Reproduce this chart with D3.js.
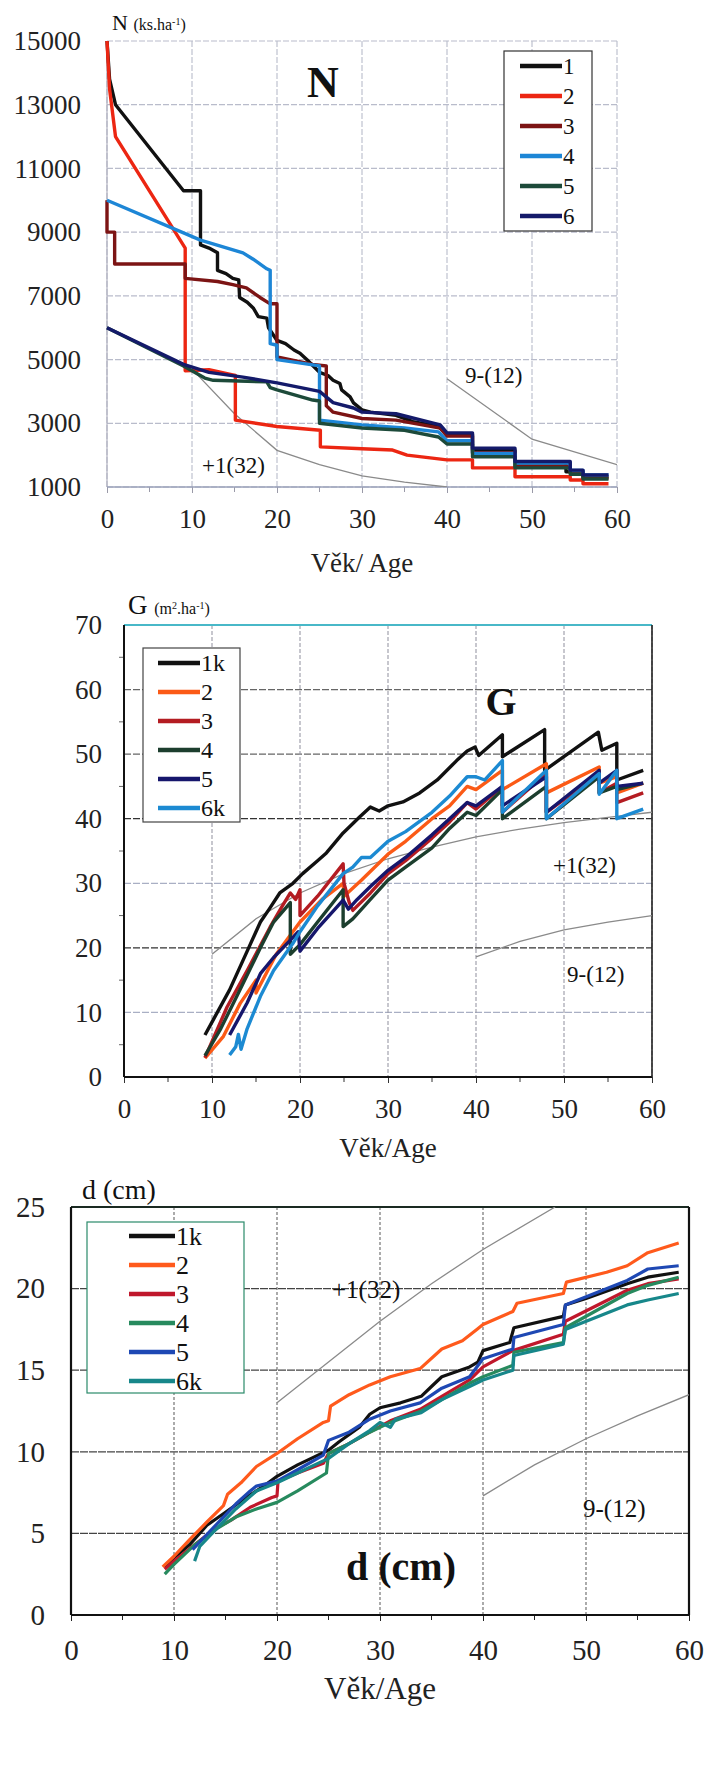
<!DOCTYPE html>
<html>
<head>
<meta charset="utf-8">
<script src="https://cdn.jsdelivr.net/npm/d3@7"></script>
<style>
  body { margin: 0; background: #fff; }
  svg, svg text { font-family: "Liberation Serif", "DejaVu Serif", serif; }
</style>
</head>
<body>
<svg id="chart" width="708" height="1783"></svg>
<script>
// ---------- data: N (ks.ha-1) by age ----------
const nS1 = [[0,15000],[0.3,13800],[1,13000],[9,10300],[11,10300],[11,8600],[12,8500],[13,8350],[13,7800],[14,7700],[14.8,7550],[15.5,7500],[15.6,6950],[16.5,6800],[17.2,6620],[17.8,6350],[18.8,6300],[19,6000],[20,5600],[21,5500],[22,5300],[22.7,5200],[23.5,5000],[25,4600],[26,4500],[26.6,4350],[27.4,4250],[27.6,4050],[28.6,3830],[29,3640],[30,3420],[31,3350],[34,3250],[36,3050],[39,2900],[40,2650],[43,2650],[43,2150],[48,2150],[48,1750],[54,1750],[54,1480],[56,1480],[56,1320],[59,1320]];
const nS2 = [[0,15000],[0.3,13500],[1,12000],[9.2,8500],[9.2,4650],[12,4680],[14.8,4520],[15.1,4500],[15.1,3100],[20,2900],[25.1,2780],[25.1,2260],[30,2200],[33.6,2160],[35.3,2000],[40,1850],[43,1850],[43,1600],[48,1600],[48,1320],[54.5,1320],[54.5,1220],[56,1220],[56,1100],[59,1100]];
const nS3 = [[0,10000],[0,9000],[0.9,9000],[0.9,8000],[9.2,8000],[9.2,7550],[13,7450],[14.8,7350],[16.4,7250],[18,6950],[19.2,6750],[20,6750],[20,5080],[24.2,4850],[25.8,4800],[25.8,3550],[26.6,3350],[30,3150],[34,3100],[39.2,2850],[40,2600],[43,2600],[43,2080],[48,2080],[48,1650],[54.5,1650],[54.5,1450],[56,1450],[56,1280],[59,1280]];
const nS4 = [[0,10000],[11,8750],[16,8350],[17.2,8150],[18.8,7850],[19.2,7800],[19.2,5500],[20,5450],[20,5000],[25,4800],[25,3100],[27.4,3030],[30,2950],[35,2850],[39,2730],[40,2450],[43,2450],[43,2050],[48,2050],[48,1750],[54.5,1750],[54.5,1520],[56,1520],[56,1380],[59,1380]];
const nS5 = [[0,6000],[9,4800],[11.5,4420],[12.5,4350],[18.8,4300],[19.2,4120],[20,4050],[24.2,3730],[25,3700],[25,3000],[30,2850],[35,2780],[39,2570],[40,2350],[43,2350],[43,1950],[48,1950],[48,1600],[54.5,1600],[54.5,1400],[56,1400],[56,1250],[59,1250]];
const nS6 = [[0,6000],[9,4850],[12,4600],[16,4450],[20,4270],[25,4000],[26.6,3650],[29,3480],[30,3350],[34,3300],[39.2,2950],[40,2700],[43,2700],[43,2220],[48,2220],[48,1800],[54.5,1800],[54.5,1530],[56,1530],[56,1380],[59,1380]];
const nRefPlus = [[10,4700],[15,3300],[20,2150],[25,1700],[30,1350],[35,1150],[40,1000]];
const nRefNine = [[40,4400],[50,2500],[60,1700]];
const nNames = ["1","2","3","4","5","6"];
const nTicks = [1000,3000,5000,7000,9000,11000,13000,15000];

// ---------- data: G (m2.ha-1) by age ----------
const gS1 = [[9.2,6.5],[10,8.5],[12,13.5],[14,19.5],[15.5,24],[16.5,26],[17.7,28.5],[19.2,30],[20.3,31.5],[22,33.5],[23,34.7],[24.9,37.8],[26.8,40.3],[28,41.8],[29,41.2],[30,42],[31.7,42.6],[33.6,44],[35.6,46],[37.8,49],[39,50.5],[39.9,51.1],[40.3,49.8],[43,53],[43,49.6],[47.8,53.8],[47.8,47.5],[53.9,53.4],[54.3,50.6],[56,51.7],[56,46],[59,47.5]];
const gS2 = [[9.2,2.9],[11.3,6.3],[13.2,11.4],[15,15],[15,13],[17.3,19],[20,24],[22.5,27.5],[24.9,30],[25,28],[27,30.5],[30,34.5],[32,36.5],[35,40],[37,42],[39,45],[40,44.5],[43,47.5],[43,44.5],[48,48.5],[48,44],[54,48],[54,45.5],[56,46.5],[56,44],[59,45.5]];
const gS3 = [[9.2,3],[11.7,10.8],[14,16.5],[16.6,23.2],[18,26.5],[18.9,28.5],[19.5,27.5],[20,29],[20,25],[22,28],[24.9,33],[25,30],[25.6,27],[26,25.8],[28,28.5],[30,31.5],[32,33.5],[35,37],[37,39.5],[39,42.5],[40,41.5],[43,45],[43,41],[48,47],[48,41],[54,47],[54,44],[56,45.5],[56,42.5],[59,44]];
const gS4 = [[9.2,3.3],[11,7.5],[13,13],[15.5,20],[17,24],[18.9,27],[18.9,19],[20,20.5],[22,24],[24.9,29],[24.9,23.3],[26,24.5],[28,27.5],[30,30.5],[32,32.5],[35,35.5],[37,38.5],[39,41],[40,40.5],[43,44.5],[43,40],[48,45],[48,40],[54,46.5],[54,44],[56,45],[56,44.5],[59,45.5]];
const gS5 = [[12,6.5],[14,11.5],[15.5,16],[17,18.5],[18.9,21.2],[19.8,22.5],[20,19.5],[22,23],[24.9,27.4],[25.5,26],[26.5,27.5],[28,29.5],[30,32],[32,34],[35,37.5],[37,40],[39,42.5],[40,42],[43,45],[43,42],[48,46.5],[48,41],[54,47.5],[54,45.5],[56,47.5],[56,45],[59,45.5]];
const gS6 = [[12,3.4],[12.7,4.7],[13,6.6],[13.3,4.3],[14,7.5],[15.5,12.5],[17,16.5],[19.2,20.7],[20,22.5],[22,26.5],[24.9,31.5],[26,32.5],[27,34],[28,34],[30,36.5],[32,38],[35,41],[37,43.5],[39,46.5],[40,46.5],[41,46],[43,49],[43,41],[48,47.5],[48,40],[54,47],[54,43.8],[56,47.5],[56,40],[59,41.5]];
const gRefPlus = [[10,19],[15,24.5],[20,28.5],[25,31.5],[30,33.8],[35,35.6],[40,37.2],[45,38.4],[50,39.4],[55,40.2],[60,41]];
const gRefNine = [[40,18.6],[45,21],[50,22.8],[55,24],[60,25]];
const gNames = ["1k","2","3","4","5","6k"];
const gTicks = [0,10,20,30,40,50,60,70];

// ---------- data: d (cm) by age ----------
const dS1 = [[9.1,2.9],[10,3.5],[11.5,4.3],[13.2,5.5],[15,6.3],[17,7.2],[18.5,7.8],[20,8.5],[22,9.2],[25,10.1],[26,10.6],[28,11.5],[29,12.3],[30,12.7],[32,13],[34,13.4],[35,14],[36,14.6],[38.7,15.2],[39.5,15.5],[40,16.2],[42.6,16.7],[43,17.6],[47.8,18.3],[48,19],[50,19.4],[54,20.3],[56,20.7],[59,21]];
const dS2 = [[8.9,2.95],[10,3.6],[11.5,4.6],[13.2,5.7],[14.8,6.7],[15.2,7.4],[16.5,8.1],[18,9.1],[20,9.9],[22,10.8],[24.5,11.8],[25,11.9],[25.2,12.8],[27,13.5],[29,14.1],[31,14.6],[33.9,15.1],[36,16.3],[38,16.8],[39.4,17.5],[40,17.8],[42.9,18.6],[43.3,19.1],[47.8,19.7],[48.1,20.4],[52,21],[54,21.4],[56,22.2],[59,22.8]];
const dS3 = [[9.1,2.8],[10,3.3],[12,4.3],[14,5.3],[15.5,5.8],[17.4,6.6],[19.5,7.2],[20,7.3],[20.1,8.2],[22,8.7],[24.5,9.3],[25,9.9],[27,10.5],[29,11.2],[31,11.9],[33.9,12.6],[36,13.4],[38.7,14.4],[40,15.2],[42.9,16.2],[47.8,17.2],[48,18],[54,19.9],[56,20.3],[59,20.6]];
const dS4 = [[9.1,2.5],[10,3.1],[12,4.3],[14.2,5.3],[16,6],[18,6.5],[20,6.9],[22,7.6],[24.8,8.7],[25,9.9],[27,10.5],[29,11.2],[31,11.8],[34,12.5],[36,13.2],[38.7,14.2],[40,14.6],[42.9,15.3],[43,16.1],[47.8,16.7],[48,17.6],[54,19.7],[56,20.2],[59,20.7]];
const dS5 = [[11.8,4],[13,4.8],[14.8,6],[16,6.8],[17.4,7.6],[18,7.9],[20,8.2],[22,8.9],[24.5,9.8],[25,10.7],[27,11.2],[29,12],[31,12.5],[33.9,13],[36,13.9],[38.7,14.6],[40,15.7],[42.9,16.3],[43,17],[47.8,17.8],[48,19],[54,20.5],[56,21.2],[59,21.4]];
const dS6 = [[12,3.3],[12.5,4.2],[14,5.2],[16,6.5],[18,7.6],[20,8.1],[22,8.7],[25,9.6],[27,10.5],[29,11.3],[30,11.8],[31,11.5],[31.5,12],[34,12.4],[36,13.2],[38.7,14],[40,14.4],[42.9,15],[43,15.9],[47.8,16.6],[48,17.5],[54,19],[56,19.3],[59,19.7]];
const dRefPlus = [[20,13],[25,15.5],[30,18],[35,20.3],[40,22.4],[47,25]];
const dRefNine = [[40,7.3],[45,9.2],[50,10.8],[55,12.2],[60,13.5]];
const dNames = ["1k","2","3","4","5","6k"];
const dTicks = [0,5,10,15,20,25];

const ageTicks = [0,10,20,30,40,50,60];
const SERIF = 'Liberation Serif, DejaVu Serif, serif';

const svg = d3.select('#chart');
svg.append('rect').attr('width', 708).attr('height', 1783).attr('fill', '#fff');

function drawPanel(cfg) {
  const x = d3.scaleLinear().domain([0, 60]).range([cfg.left, cfg.right]);
  const y = d3.scaleLinear().domain(cfg.yDomain).range([cfg.bottom, cfg.top]);
  const g = svg.append('g');
  const clipId = 'clip-' + cfg.id;
  g.append('clipPath').attr('id', clipId)
    .append('rect')
    .attr('x', cfg.left).attr('y', cfg.top)
    .attr('width', cfg.right - cfg.left).attr('height', cfg.bottom - cfg.top);

  // grid
  g.selectAll('.hgrid')
    .data(cfg.yTicks)
    .join('line')
    .attr('x1', cfg.left).attr('x2', cfg.right)
    .attr('y1', d => y(d)).attr('y2', d => y(d))
    .attr('stroke', d => cfg.hGridColor(d))
    .attr('stroke-width', 1.2)
    .attr('stroke-dasharray', cfg.hDash);
  g.selectAll('.vgrid')
    .data(ageTicks)
    .join('line')
    .attr('x1', d => x(d)).attr('x2', d => x(d))
    .attr('y1', cfg.top).attr('y2', cfg.bottom)
    .attr('stroke', cfg.vGridColor)
    .attr('stroke-width', 1.1)
    .attr('stroke-dasharray', cfg.vDash);

  // axes (labels only, lines drawn as frame)
  const yAxis = g.append('g')
    .attr('transform', `translate(${cfg.left},0)`)
    .call(d3.axisLeft(y).tickValues(cfg.yTicks).tickFormat(d3.format('d'))
      .tickSize(cfg.yTickLen).tickPadding(cfg.yPad));
  const xAxis = g.append('g')
    .attr('transform', `translate(0,${cfg.bottom})`)
    .call(d3.axisBottom(x).tickValues(ageTicks).tickFormat(d3.format('d'))
      .tickSize(6).tickPadding(cfg.xPad));
  [yAxis, xAxis].forEach(a => {
    a.attr('font-family', null).attr('font-size', null);
    a.select('.domain').remove();
    a.selectAll('line').attr('stroke', cfg.frameColor);
    a.selectAll('text')
      .style('font-family', SERIF)
      .style('font-size', cfg.tickFont + 'px')
      .attr('fill', '#222');
  });
  // minor ticks on age axis
  g.selectAll('.minor')
    .data([5, 15, 25, 35, 45, 55])
    .join('line')
    .attr('x1', d => x(d)).attr('x2', d => x(d))
    .attr('y1', cfg.bottom).attr('y2', cfg.bottom + 5)
    .attr('stroke', cfg.frameColor);
  if (cfg.yMinor) {
    g.selectAll('.yminor')
      .data(cfg.yMinor)
      .join('line')
      .attr('x1', cfg.left - 5).attr('x2', cfg.left)
      .attr('y1', d => y(d)).attr('y2', d => y(d))
      .attr('stroke', '#666');
  }

  // frame
  cfg.frame.forEach(f => {
    const [x1, y1, x2, y2] = {
      left: [cfg.left, cfg.top, cfg.left, cfg.bottom],
      right: [cfg.right, cfg.top, cfg.right, cfg.bottom],
      top: [cfg.left, cfg.top, cfg.right, cfg.top],
      bottom: [cfg.left, cfg.bottom, cfg.right, cfg.bottom]
    }[f.side];
    g.append('line')
      .attr('x1', x1).attr('y1', y1).attr('x2', x2).attr('y2', y2)
      .attr('stroke', f.color).attr('stroke-width', f.width);
  });

  // reference curves
  const line = d3.line().x(d => x(d[0])).y(d => y(d[1]));
  g.selectAll('.ref')
    .data(cfg.refs)
    .join('path')
    .attr('clip-path', `url(#${clipId})`)
    .attr('d', line)
    .attr('fill', 'none')
    .attr('stroke', '#8a8a8a')
    .attr('stroke-width', 1.3);

  // series
  g.selectAll('.series')
    .data(cfg.series)
    .join('path')
    .attr('d', line)
    .attr('fill', 'none')
    .attr('stroke', (d, i) => cfg.colors[i])
    .attr('stroke-width', cfg.lineWidth)
    .attr('stroke-linejoin', 'round');

  // annotations
  cfg.notes.forEach(n => {
    g.append('text')
      .attr('x', n.x).attr('y', n.y)
      .style('font-family', SERIF)
      .style('font-size', n.size + 'px')
      .style('font-weight', n.bold ? 'bold' : 'normal')
      .attr('text-anchor', n.anchor || 'start')
      .attr('fill', '#111')
      .text(n.text);
  });

  // axis title (with optional superscripts)
  const t = g.append('text')
    .attr('x', cfg.title.x).attr('y', cfg.title.y)
    .style('font-family', SERIF)
    .attr('fill', '#111');
  cfg.title.parts.forEach(p => {
    const s = t.append('tspan').style('font-size', p.size + 'px').text(p.text);
    if (p.sup) s.attr('dy', -p.size * 0.55);
    if (p.down) s.attr('dy', p.down);
  });
  g.append('text')
    .attr('x', (cfg.left + cfg.right) / 2)
    .attr('y', cfg.xLabelY)
    .attr('text-anchor', 'middle')
    .style('font-family', SERIF)
    .style('font-size', cfg.xLabelFont + 'px')
    .attr('fill', '#222')
    .text(cfg.xLabel);

  // legend
  const L = cfg.legend;
  g.append('rect')
    .attr('x', L.x).attr('y', L.y).attr('width', L.w).attr('height', L.h)
    .attr('fill', '#fff').attr('stroke', L.stroke).attr('stroke-width', 1.2);
  const item = g.selectAll('.leg')
    .data(cfg.names)
    .join('g')
    .attr('transform', (d, i) => `translate(${L.lineX},${L.firstY + i * L.step})`);
  item.append('line')
    .attr('x1', 0).attr('x2', L.lineLen)
    .attr('stroke', (d, i) => cfg.colors[i])
    .attr('stroke-width', 4.5);
  item.append('text')
    .attr('x', L.lineLen + 1).attr('y', L.font * 0.33)
    .style('font-family', SERIF)
    .style('font-size', L.font + 'px')
    .attr('fill', '#111')
    .text(d => d);
}

// ---------- panel N ----------
drawPanel({
  id: 'n', left: 107, right: 617, top: 41, bottom: 487,
  yDomain: [1000, 15000], yTicks: nTicks,
  hGridColor: () => '#b9bccb', vGridColor: '#b9bccb', hDash: '6,2', vDash: '6,2',
  frameColor: '#9a9aa8', yTickLen: 0, yPad: 26, xPad: 16, tickFont: 27,
  frame: [{side: 'left', color: '#b0b0bf', width: 1.2}, {side: 'bottom', color: '#9aa0b8', width: 1.5}],
  refs: [nRefPlus, nRefNine],
  series: [nS1, nS2, nS3, nS4, nS5, nS6],
  colors: ['#111111', '#ec2612', '#7c1414', '#1d86d6', '#1d4a3a', '#141a6a'],
  names: nNames, lineWidth: 3.4,
  notes: [
    {text: 'N', x: 323, y: 97, size: 44, bold: true, anchor: 'middle'},
    {text: '9-(12)', x: 465, y: 383, size: 23},
    {text: '+1(32)', x: 202, y: 473, size: 23}
  ],
  title: {x: 112, y: 30, parts: [{text: 'N ', size: 22}, {text: '(ks.ha', size: 16}, {text: '-1', size: 10, sup: true}, {text: ')', size: 16, down: 5.5}]},
  xLabel: 'Věk/ Age', xLabelY: 572, xLabelFont: 27,
  legend: {x: 504, y: 51, w: 88, h: 180, stroke: '#333', lineX: 520, lineLen: 42, firstY: 66, step: 30, font: 23}
});

// ---------- panel G ----------
drawPanel({
  id: 'g', left: 124, right: 652, top: 625, bottom: 1077,
  yDomain: [0, 70], yTicks: gTicks,
  hGridColor: d => (d === 20 || d === 40) ? '#333' : (d === 50 || d === 60) ? '#666' : '#a9afc4',
  vGridColor: '#9a9aa6', hDash: '7,2', vDash: '4,2',
  frameColor: '#333', yTickLen: 0, yPad: 22, xPad: 16, tickFont: 27,
  yMinor: [5, 15, 25, 35, 45, 55, 65],
  frame: [{side: 'top', color: '#48b8c8', width: 2}, {side: 'left', color: '#111', width: 2}, {side: 'bottom', color: '#111', width: 2}, {side: 'right', color: '#222', width: 1.6}],
  refs: [gRefPlus, gRefNine],
  series: [gS1, gS2, gS3, gS4, gS5, gS6],
  colors: ['#111111', '#fb5a16', '#b41c22', '#1c3e2e', '#16166c', '#1c8ad2'],
  names: gNames, lineWidth: 3.4,
  notes: [
    {text: 'G', x: 501, y: 715, size: 40, bold: true, anchor: 'middle'},
    {text: '+1(32)', x: 553, y: 873, size: 23},
    {text: '9-(12)', x: 567, y: 982, size: 23}
  ],
  title: {x: 128, y: 614, parts: [{text: 'G ', size: 27}, {text: '(m', size: 16}, {text: '2', size: 10, sup: true}, {text: '.ha', size: 16, down: 5.5}, {text: '-1', size: 10, sup: true}, {text: ')', size: 16, down: 5.5}]},
  xLabel: 'Věk/Age', xLabelY: 1157, xLabelFont: 27,
  legend: {x: 143, y: 648, w: 97, h: 174, stroke: '#444', lineX: 158, lineLen: 42, firstY: 663, step: 29, font: 24}
});

// ---------- panel d ----------
drawPanel({
  id: 'd', left: 71, right: 689, top: 1207, bottom: 1615,
  yDomain: [0, 25], yTicks: dTicks,
  hGridColor: () => '#444', vGridColor: '#666', hDash: '8,1', vDash: '3,2',
  frameColor: '#222', yTickLen: 0, yPad: 26, xPad: 18, tickFont: 29,
  frame: [{side: 'top', color: '#1a2a22', width: 2.2}, {side: 'left', color: '#111', width: 2.2}, {side: 'bottom', color: '#111', width: 2.2}, {side: 'right', color: '#111', width: 2.2}],
  refs: [dRefPlus, dRefNine],
  series: [dS1, dS2, dS3, dS4, dS5, dS6],
  colors: ['#111111', '#ff5a1c', '#c0182c', '#278a5e', '#1e48b4', '#17878a'],
  names: dNames, lineWidth: 3.2,
  notes: [
    {text: 'd (cm)', x: 401, y: 1580, size: 40, bold: true, anchor: 'middle'},
    {text: '+1(32)', x: 332, y: 1298, size: 25},
    {text: '9-(12)', x: 583, y: 1517, size: 25}
  ],
  title: {x: 82, y: 1199, parts: [{text: 'd (cm)', size: 28}]},
  xLabel: 'Věk/Age', xLabelY: 1699, xLabelFont: 31,
  legend: {x: 87, y: 1222, w: 157, h: 171, stroke: '#2a8a6a', lineX: 129, lineLen: 46, firstY: 1236, step: 29, font: 26}
});
</script>
</body>
</html>
